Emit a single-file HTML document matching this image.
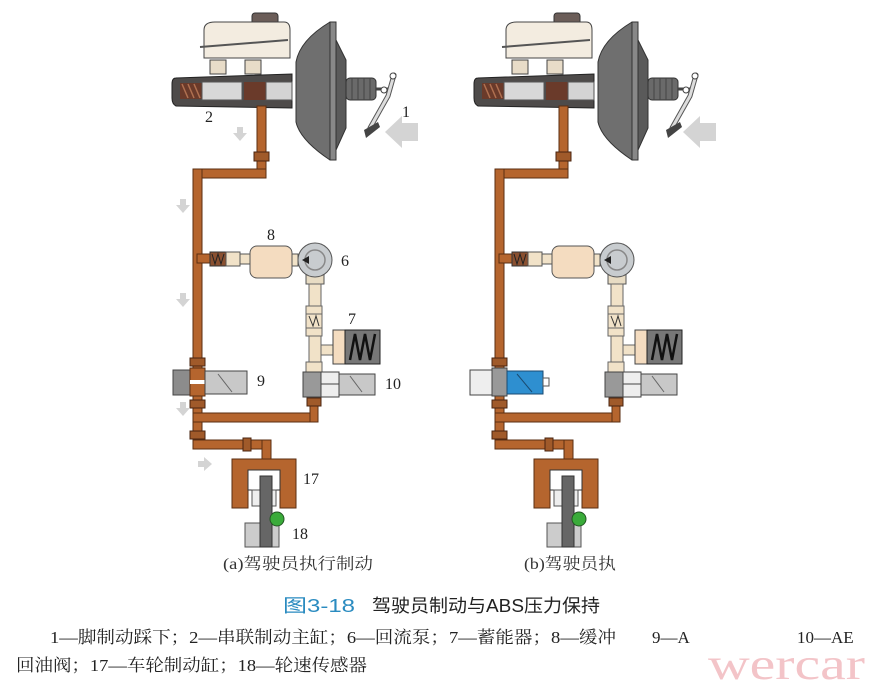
<!DOCTYPE html>
<html><head><meta charset="utf-8"><style>
html,body{margin:0;padding:0;background:#fff;}
svg{display:block;}
.serif{font-family:"Liberation Serif","Noto Serif CJK SC",serif;}
</style></head><body>
<svg width="880" height="691" viewBox="0 0 880 691" xmlns="http://www.w3.org/2000/svg">
<defs>
<g id="diag">
  <rect x="252" y="13" width="26" height="16" rx="3" fill="#6b5d58" stroke="#333"/>
  <path d="M204 30 Q204 22 215 22 L284 22 Q290 22 290 30 L290 58 L204 58 Z" fill="#f3ece0" stroke="#444"/>
  <line x1="200" y1="47" x2="288" y2="40" stroke="#555" stroke-width="2"/>
  <rect x="210" y="60" width="16" height="14" fill="#e8dcc8" stroke="#444"/>
  <rect x="245" y="60" width="16" height="14" fill="#e8dcc8" stroke="#444"/>
  <path d="M176 78 L292 74 L292 108 L176 106 Q172 104 172 98 L172 84 Q172 78 176 78 Z" fill="#4e4b4a" stroke="#222"/>
  <rect x="180" y="83" width="22" height="16" fill="#6a3a2a"/>
  <path d="M182 84 l6 14 M188 84 l6 14 M194 84 l6 14" stroke="#b07050" stroke-width="1.5"/>
  <rect x="202" y="82" width="40" height="18" fill="#d8d8d8" stroke="#555"/>
  <rect x="244" y="82" width="22" height="18" fill="#6a3a2a"/>
  <rect x="266" y="82" width="26" height="18" fill="#d4d4d4" stroke="#555"/>
  <path d="M296 62 Q300 40 330 22 L336 22 L336 160 L330 160 Q300 140 296 122 Z" fill="#6f6f6f" stroke="#333"/>
  <rect x="330" y="22" width="6" height="138" fill="#888" stroke="#333"/>
  <path d="M336 40 L346 60 L346 128 L336 150 Z" fill="#5a5a5a" stroke="#333"/>
  <rect x="346" y="78" width="30" height="22" rx="4" fill="#6a6a6a" stroke="#333"/>
  <path d="M352 78 v22 M358 78 v22 M364 78 v22 M370 78 v22" stroke="#444"/>
  <line x1="376" y1="89" x2="390" y2="89" stroke="#444" stroke-width="3"/>
  <path d="M394 75 L388 96 L370 128" stroke="#555" stroke-width="5" fill="none" stroke-linecap="round"/>
  <path d="M394 75 L388 96 L370 128" stroke="#ddd" stroke-width="3" fill="none" stroke-linecap="round"/>
  <circle cx="393" cy="76" r="3" fill="#fff" stroke="#444"/>
  <circle cx="384" cy="90" r="3" fill="#fff" stroke="#444"/>
  <path d="M364 130 L378 122 L380 127 L366 138 Z" fill="#444"/>
  <g fill="#b5652e" stroke="#5a2e12" stroke-width="1">
    <rect x="257" y="106" width="9" height="70"/>
    <rect x="193" y="169" width="73" height="9"/>
    <rect x="193" y="169" width="9" height="280"/>
    <rect x="197" y="254" width="14" height="9"/>
    <rect x="193" y="413" width="125" height="9"/>
    <rect x="310" y="390" width="8" height="32"/>
    <rect x="193" y="440" width="78" height="9"/>
    <rect x="262" y="440" width="9" height="22"/>
    <path d="M232 459 H296 V508 H280 V490 H248 V508 H232 Z"/>
  </g>
  <g fill="#a05a2a" stroke="#4a2410">
    <rect x="254" y="152" width="15" height="9"/>
    <rect x="190" y="358" width="15" height="8"/>
    <rect x="190" y="400" width="15" height="8"/>
    <rect x="190" y="431" width="15" height="8"/>
    <rect x="243" y="438" width="8" height="13"/>
    <rect x="307" y="398" width="14" height="8"/>
  </g>
  <rect x="248" y="470" width="32" height="20" fill="#fff" stroke="#333"/>
  <rect x="252" y="490" width="8" height="16" fill="#eee" stroke="#555"/>
  <rect x="268" y="490" width="8" height="16" fill="#eee" stroke="#555"/>
  <rect x="245" y="523" width="34" height="24" fill="#ccc" stroke="#555"/>
  <rect x="260" y="476" width="12" height="71" fill="#666" stroke="#333"/>
  <circle cx="277" cy="519" r="7" fill="#3aab3a" stroke="#225522"/>
  <rect x="210" y="252" width="16" height="14" fill="#8a5030" stroke="#333"/>
  <path d="M212 254 l3 10 l3 -10 l3 10 l3 -10" stroke="#222" fill="none"/>
  <rect x="226" y="252" width="14" height="14" fill="#f1e2c8" stroke="#555"/>
  <rect x="240" y="254" width="10" height="10" fill="#f1e2c8" stroke="#555"/>
  <rect x="250" y="246" width="42" height="32" rx="7" fill="#f4dcc0" stroke="#555"/>
  <rect x="292" y="254" width="6" height="12" fill="#f1e2c8" stroke="#555"/>
  <rect x="306" y="274" width="18" height="10" fill="#e8dcc4" stroke="#555"/>
  <circle cx="315" cy="260" r="17" fill="#c8cccf" stroke="#555"/>
  <circle cx="315" cy="260" r="10" fill="none" stroke="#888" stroke-width="1.5"/>
  <path d="M302 260 l7 -4 v8 z" fill="#222"/>
  <g fill="#f1e2c8" stroke="#666">
    <rect x="309" y="284" width="12" height="22"/>
    <rect x="306" y="306" width="16" height="8"/>
    <rect x="306" y="314" width="16" height="14"/>
    <rect x="306" y="328" width="16" height="8"/>
    <rect x="309" y="336" width="12" height="28"/>
    <rect x="321" y="345" width="12" height="10"/>
    <rect x="306" y="362" width="16" height="10"/>
  </g>
  <path d="M309 316 l4 10 l3 -10 l3 10" stroke="#333" fill="none"/>
  <rect x="333" y="330" width="47" height="34" fill="#f4dcc0" stroke="#444"/>
  <rect x="345" y="330" width="35" height="34" fill="#777" stroke="#222"/>
  <path d="M350 360 l5 -26 l5 26 l5 -26 l5 26 l5 -26" stroke="#111" stroke-width="2.5" fill="none"/>
  <rect x="303" y="372" width="18" height="25" fill="#999" stroke="#444"/>
  <rect x="321" y="372" width="18" height="25" fill="#eee" stroke="#444"/>
  <line x1="321" y1="384" x2="339" y2="384" stroke="#444"/>
  <rect x="339" y="374" width="36" height="21" fill="#c8c8c8" stroke="#444"/>
  <line x1="350" y1="376" x2="362" y2="392" stroke="#666"/>
</g>
</defs>

<use href="#diag"/>
<rect x="173" y="370" width="20" height="25" fill="#8c8c8c" stroke="#444"/>
<rect x="190" y="368" width="15" height="28" fill="#b5652e" stroke="#5a2e12"/>
<rect x="190" y="380" width="15" height="4" fill="#fff"/>
<rect x="205" y="371" width="42" height="23" fill="#c8c8c8" stroke="#444"/>
<line x1="218" y1="374" x2="232" y2="392" stroke="#666"/>

<g transform="translate(302,0)">
  <use href="#diag"/>
  <rect x="168" y="370" width="22" height="25" fill="#eee" stroke="#444"/>
  <rect x="190" y="368" width="15" height="28" fill="#999" stroke="#444"/>
  <rect x="205" y="371" width="36" height="23" fill="#2e8fd0" stroke="#1a4a70"/>
  <line x1="215" y1="374" x2="230" y2="392" stroke="#1a4a70"/>
  <rect x="241" y="378" width="6" height="8" fill="#fff" stroke="#555"/>
</g>

<g fill="#d4d4d4">
  <path d="M418 123 H402 V116 L385 132 L402 148 V141 H418 Z"/>
  <path d="M716 123 H700 V116 L683 132 L700 148 V141 H716 Z"/>
  <path d="M237 127 h6 v6 h4 l-7 8 l-7 -8 h4 z"/>
  <path d="M180 199 h6 v6 h4 l-7 8 l-7 -8 h4 z"/>
  <path d="M180 293 h6 v6 h4 l-7 8 l-7 -8 h4 z"/>
  <path d="M180 402 h6 v6 h4 l-7 8 l-7 -8 h4 z"/>
  <path d="M198 461 h6 v-4 l8 7 l-8 7 v-4 h-6 z"/>
</g>

<g class="serif" font-size="16" fill="#222">
  <text x="402" y="117">1</text>
  <text x="205" y="122">2</text>
  <text x="267" y="240">8</text>
  <text x="341" y="266">6</text>
  <text x="348" y="324">7</text>
  <text x="257" y="386">9</text>
  <text x="385" y="389">10</text>
  <text x="303" y="484">17</text>
  <text x="292" y="539">18</text>
</g>
<text class="serif" x="223" y="569" font-size="16" fill="#333" textLength="150" lengthAdjust="spacingAndGlyphs">(a)驾驶员执行制动</text>
<text class="serif" x="524" y="569" font-size="16" fill="#333" textLength="92" lengthAdjust="spacingAndGlyphs">(b)驾驶员执</text>

<text x="283" y="612" font-size="18" fill="#2a8bc0" style="font-family:'Liberation Sans','Noto Sans CJK SC',sans-serif" textLength="72" lengthAdjust="spacingAndGlyphs">图3-18</text>
<text x="372" y="612" font-size="18" fill="#222" style="font-family:'Liberation Sans','Noto Sans CJK SC',sans-serif" textLength="228" lengthAdjust="spacingAndGlyphs">驾驶员制动与ABS压力保持</text>

<text class="serif" x="50" y="643" font-size="17" fill="#222" textLength="566" lengthAdjust="spacingAndGlyphs">1—脚制动踩下；2—串联制动主缸；6—回流泵；7—蓄能器；8—缓冲</text>
<text class="serif" x="652" y="643" font-size="17" fill="#222">9—A</text>
<text class="serif" x="797" y="643" font-size="17" fill="#222">10—AE</text>
<text class="serif" x="16" y="671" font-size="17" fill="#222" textLength="351" lengthAdjust="spacingAndGlyphs">回油阀；17—车轮制动缸；18—轮速传感器</text>
<text x="708" y="679" font-size="44" fill="#f3c4c8" style="font-family:'Liberation Serif',serif" textLength="157" lengthAdjust="spacingAndGlyphs">wercar</text>
</svg>
</body></html>
